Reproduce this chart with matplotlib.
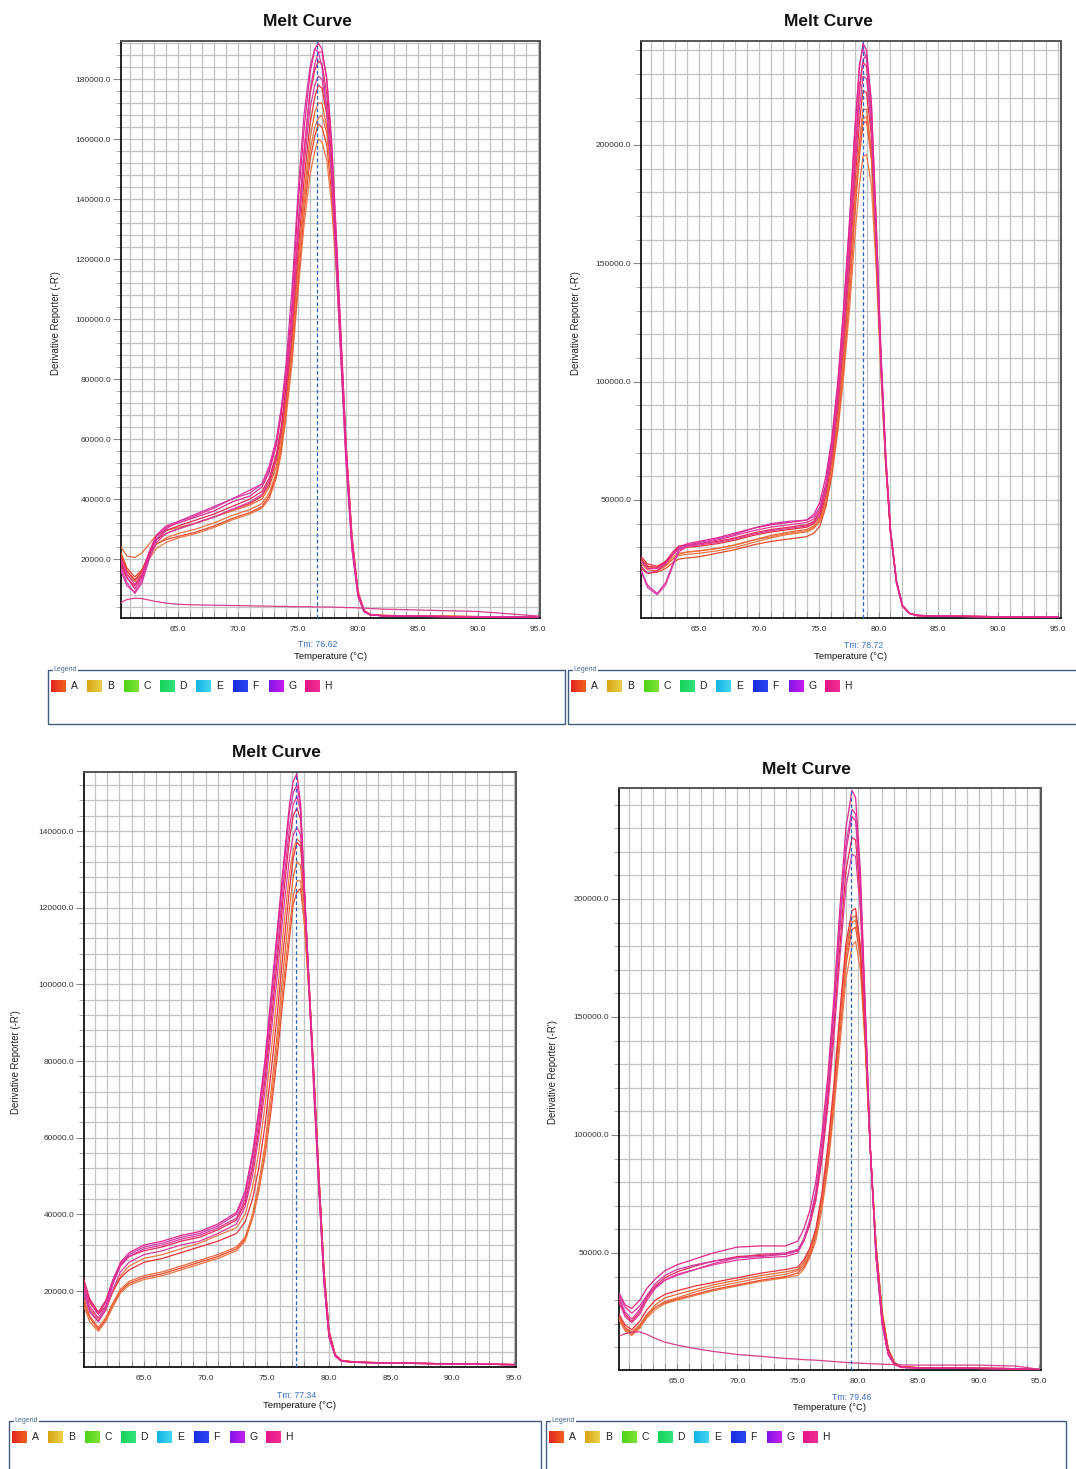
import matplotlib
matplotlib.use('Agg')
import numpy as np
import matplotlib.pyplot as plt
from matplotlib.patches import Rectangle
from matplotlib.colors import LinearSegmentedColormap
from matplotlib.ticker import MultipleLocator, FixedLocator, FormatStrFormatter
from matplotlib.transforms import blended_transform_factory

plt.rcParams['font.family'] = ['Liberation Sans', 'DejaVu Sans']

W, H = 1076, 1469

# ---------------- data (values in thousands of -R') ----------------
# panel 1 (top left)
p1_temps = [60.25, 60.75, 61.4, 62.0, 62.6, 63.2, 64.0, 65.0, 66.5, 68.0, 69.5, 71.0, 72.0, 72.6, 73.2, 73.6, 74.0, 74.5,
            75.0, 75.5, 76.0, 76.4, 76.7, 77.0, 77.4, 77.8, 78.2, 78.6, 79.0, 79.5, 80.0, 80.5, 81.0, 82.0, 85.0, 90.0, 95.0]
p1_c01 = [19, 14, 10, 14, 22, 27.5, 30.5, 32, 34, 36, 39, 41, 44, 49, 58, 68, 82, 105, 138, 163, 182, 190, 192, 190, 180, 158, 125, 90, 55, 24, 8, 2.5, 1.4, 1.1, 0.9, 0.7, 0.6]
p1_c02 = [17, 12, 8.5, 12, 20, 26.5, 30, 32.5, 35, 37.5, 40, 42, 45, 50, 59, 70, 85, 110, 142, 168, 184, 190, 189, 184, 170, 148, 117, 84, 52, 23, 7.5, 2.4, 1.4, 1.1, 0.9, 0.7, 0.6]
p1_c03 = [20, 15, 11.5, 15, 22.5, 28, 31, 32.5, 34.5, 37, 40, 43, 45, 51, 60, 70, 80, 100, 130, 156, 176, 185, 189, 189, 180, 160, 128, 94, 59, 27, 9, 2.8, 1.5, 1.1, 0.9, 0.7, 0.6]
p1_c04 = [18, 13.5, 11, 14.5, 21.5, 26.5, 29.5, 31, 33, 35, 37.5, 40, 42.5, 47, 55, 64, 78, 100, 130, 155, 175, 183, 186, 185, 175, 154, 124, 91, 57, 26, 8.5, 2.6, 1.4, 1.1, 0.9, 0.7, 0.6]
p1_c05 = [16, 11, 9, 13, 20, 25.5, 28.5, 30, 32, 34, 36.5, 39, 41.5, 46, 54, 63, 76, 98, 127, 151, 170, 178, 181, 180, 170, 149, 119, 87, 54, 24, 8, 2.5, 1.4, 1.1, 0.9, 0.7, 0.6]
p1_c06 = [21, 16, 13, 16, 22, 26.5, 28.5, 30, 32, 34, 36.5, 38.5, 41, 45, 53, 62, 74, 95, 122, 146, 165, 174, 178, 177, 168, 149, 122, 90, 57, 26, 8.5, 2.6, 1.4, 1.1, 0.9, 0.7, 0.6]
p1_c07 = [24, 21, 20.5, 22, 25, 28, 29.5, 30.5, 32, 34, 36, 38, 40, 44, 51, 60, 72, 92, 118, 141, 160, 169, 172, 172, 164, 147, 122, 91, 58, 27, 9, 2.8, 1.5, 1.2, 1.0, 0.8, 0.6]
p1_c08 = [19, 15, 12.5, 15, 21, 25, 27, 28.5, 30, 32, 34.5, 36.5, 38.5, 42, 49, 58, 70, 90, 115, 138, 156, 164, 167, 168, 162, 146, 121, 91, 59, 28, 9.5, 3, 1.6, 1.2, 1.0, 0.8, 0.6]
p1_c09 = [22, 17, 14, 16.5, 21.5, 25, 26.5, 27.5, 29, 31, 33.5, 35.5, 37.5, 41, 48, 57, 69, 88, 112, 135, 153, 161, 165, 164, 158, 142, 119, 89, 57, 27, 9, 2.9, 1.5, 1.2, 1.0, 0.8, 0.6]
p1_c10 = [20, 16, 13, 15.5, 20, 23.5, 25.5, 27, 28.5, 30.5, 33, 35, 37, 40, 47, 55, 67, 85, 109, 131, 148, 156, 160, 159, 153, 138, 115, 86, 55, 26, 8.5, 2.8, 1.5, 1.2, 1.0, 0.8, 0.6]
p1_flat = [5.5, 6.5, 6.9, 6.8, 6.3, 5.8, 5.3, 4.9, 4.7, 4.6, 4.5, 4.4, 4.3, 4.3, 4.2, 4.2, 4.2, 4.1, 4.1, 4.1, 4.1, 4.0, 4.0, 4.0, 4.0, 4.0, 3.9, 3.9, 3.8, 3.8, 3.7, 3.6, 3.5, 3.3, 3.0, 2.5, 1.0]
p1_tm = 76.62

# panel 2 (top right)
p2_temps = [60.17, 60.7, 61.5, 62.2, 62.8, 63.3, 64.0, 65.0, 66.5, 68.0, 69.5, 71.0, 72.5, 74.0, 74.6, 75.1, 75.6, 76.1,
            76.6, 77.1, 77.6, 78.0, 78.4, 78.7, 79.0, 79.4, 79.8, 80.2, 80.6, 81.0, 81.5, 82.0, 82.6, 83.2, 85.0, 90.0, 95.0]
p2_c01 = [22, 19, 20, 23, 27, 30, 31.5, 32.5, 34, 36, 38, 39.5, 40.5, 41.5, 44, 49, 60, 76, 100, 132, 170, 205, 232, 243, 240, 218, 168, 112, 68, 36, 15, 5, 2, 1.2, 0.9, 0.7, 0.6]
p2_c02 = [20, 14, 10.5, 15, 23, 29, 31, 32, 33.5, 35.5, 38, 40, 41, 41.5, 43, 47, 57, 75, 99, 131, 168, 204, 234, 241, 236, 210, 160, 107, 67, 37, 15.5, 5.2, 2, 1.2, 0.9, 0.7, 0.6]
p2_c03 = [20, 13, 10, 14, 22, 28, 30.5, 31.5, 33, 35, 37, 38.5, 39.5, 40.5, 42, 46, 56, 72, 95, 126, 162, 196, 225, 236, 238, 218, 168, 113, 70, 38, 16, 5.5, 2.1, 1.3, 0.9, 0.7, 0.6]
p2_c04 = [25, 22, 21.5, 24, 28, 30.5, 31, 31.5, 32.5, 34, 36, 37.5, 38.5, 39.5, 41, 45, 55, 71, 94, 124, 159, 193, 222, 235, 233, 212, 163, 110, 68, 37, 15.5, 5.3, 2.1, 1.2, 0.9, 0.7, 0.6]
p2_c05 = [24, 21, 21, 23.5, 27, 29.5, 30.5, 31, 32, 33.5, 35.5, 37, 38, 39, 40.5, 44, 54, 69, 91, 120, 154, 187, 215, 229, 228, 208, 162, 109, 67, 37, 15.5, 5.2, 2, 1.2, 0.9, 0.7, 0.6]
p2_c06 = [26, 23, 22, 24, 27, 29, 30, 30.5, 31.5, 33, 35, 36.5, 37.5, 38.5, 40, 43, 52, 67, 89, 117, 150, 182, 209, 223, 222, 204, 160, 108, 67, 37, 15.5, 5.3, 2.1, 1.2, 0.9, 0.7, 0.6]
p2_c07 = [23, 20.5, 20, 22, 25, 27, 28, 28.5, 29.5, 31, 33, 35, 36.5, 37.5, 39, 42, 50, 64, 85, 112, 144, 175, 201, 215, 215, 198, 156, 107, 66, 37, 15.5, 5.3, 2.1, 1.3, 0.9, 0.7, 0.6]
p2_c08 = [25, 22, 21, 22.5, 25, 26.5, 27, 27.5, 28.5, 30, 32, 34, 35.5, 36.5, 38, 41, 49, 63, 83, 110, 141, 172, 198, 211, 212, 196, 155, 107, 66, 37, 16, 5.5, 2.2, 1.3, 0.9, 0.7, 0.6]
p2_c09 = [21, 19, 19.5, 21, 23.5, 25, 25.5, 26, 27.5, 29, 31, 32.5, 33.5, 34.5, 36, 39, 47, 61, 81, 107, 138, 169, 195, 209, 210, 194, 154, 106, 65, 36, 15, 5.2, 2.1, 1.2, 0.9, 0.7, 0.6]
p2_c10 = [24, 21.5, 21, 23, 26, 27.5, 28, 28.5, 29.5, 31, 33, 34.5, 36, 37, 38.5, 41, 48, 60, 79, 103, 132, 160, 183, 195, 196, 183, 148, 103, 64, 36, 15, 5.2, 2.1, 1.2, 0.9, 0.7, 0.6]
p2_tm = 78.72

# panel 3 (bottom left)
p3_temps = [60.13, 60.6, 61.3, 61.9, 62.5, 63.1, 63.8, 65.0, 66.5, 68.0, 69.5, 71.0, 72.5, 73.2, 73.8, 74.3, 74.8, 75.3,
            75.8, 76.3, 76.8, 77.1, 77.4, 77.7, 78.0, 78.4, 78.8, 79.2, 79.6, 80.0, 80.5, 81.0, 82.0, 85.0, 90.0, 95.0]
p3_c01 = [22, 17.5, 14, 17, 23, 27.5, 30, 32, 33, 34.5, 35.5, 37.5, 40.5, 46, 56, 67, 80, 97, 114, 131, 147, 153, 155, 147, 125, 97, 70, 45, 22, 8, 3, 1.7, 1.4, 1.2, 1.0, 0.8]
p3_c02 = [20, 15, 12, 15.5, 22, 27, 29.5, 31.5, 32.5, 34, 35, 37, 40, 45, 55, 66, 79, 95, 112, 129, 145, 150, 152, 146, 125, 98, 71, 46, 22, 8, 3, 1.7, 1.4, 1.2, 1.0, 0.8]
p3_c03 = [21, 16, 13, 16, 22, 26.5, 29, 31, 32, 33.5, 34.5, 36.5, 39, 44, 53, 64, 77, 93, 109, 126, 141, 147, 149, 145, 126, 99, 73, 47, 23, 8.5, 3.2, 1.8, 1.4, 1.2, 1.0, 0.8]
p3_c04 = [23, 18, 14.5, 17.5, 23, 27, 29, 30.5, 31.5, 33, 34, 36, 38.5, 43, 52, 62, 75, 90, 106, 123, 138, 144, 146, 143, 125, 99, 73, 47, 23, 8.5, 3.2, 1.8, 1.4, 1.2, 1.0, 0.8]
p3_c05 = [19, 14.5, 12, 15, 20.5, 25, 27.5, 29.5, 30.5, 32, 33, 35, 37.5, 42, 50, 60, 72, 87, 102, 119, 133, 139, 141, 139, 123, 99, 74, 48, 24, 9, 3.3, 1.8, 1.4, 1.2, 1.0, 0.8]
p3_c06 = [21, 17, 14, 16, 20, 23.5, 25.5, 27.5, 28.5, 30, 31.5, 33, 35, 38, 44, 52, 63, 77, 92, 109, 125, 133, 137, 136, 123, 100, 75, 49, 25, 9.5, 3.4, 1.9, 1.5, 1.2, 1.0, 0.8]
p3_c07 = [18, 13.5, 10.5, 13, 17, 20.5, 22.5, 24, 25, 26.5, 28, 29.5, 31.5, 34, 40, 48, 58, 72, 87, 104, 120, 128, 132, 131, 120, 99, 75, 49, 25, 9.5, 3.4, 1.9, 1.5, 1.2, 1.0, 0.8]
p3_c08 = [16, 12, 9.5, 12, 16, 19.5, 21.5, 23, 24, 25.5, 27, 28.5, 30.5, 33, 39, 46, 56, 69, 84, 100, 115, 123, 127, 127, 117, 97, 74, 49, 25, 9.5, 3.4, 1.9, 1.5, 1.2, 1.0, 0.8]
p3_c09 = [17, 13, 10, 12.5, 16.5, 20, 22, 23.5, 24.5, 26, 27.5, 29, 31, 33.5, 39, 46, 55, 67, 81, 97, 112, 121, 124, 125, 116, 97, 74, 49, 25, 9.5, 3.4, 1.9, 1.5, 1.2, 1.0, 0.8]
p3_c10 = [20, 15.5, 12.5, 15, 20, 24, 26.5, 28.5, 29.5, 31, 32.5, 34.5, 36.5, 40, 47, 56, 68, 82, 97, 114, 129, 135, 138, 137, 123, 99, 74, 48, 24, 9, 3.3, 1.8, 1.4, 1.2, 1.0, 0.8]
p3_tm = 77.34

# panel 4 (bottom right)
p4_temps = [60.2, 60.7, 61.25, 61.9, 62.5, 63.2, 64.0, 65.0, 66.5, 68.0, 70.0, 72.0, 74.0, 75.0, 75.5, 76.0, 76.5, 77.0,
            77.5, 78.0, 78.5, 79.0, 79.5, 79.8, 80.2, 80.6, 81.0, 81.5, 82.0, 82.5, 83.0, 83.6, 85.0, 90.0, 93.0, 95.0]
p4_c01 = [33, 28, 26.5, 30, 35, 39, 42.5, 45, 47.5, 50, 52.5, 53, 53, 55, 60, 68, 80, 100, 125, 158, 196, 230, 246, 243, 212, 155, 97, 48, 20, 7, 2.8, 1.5, 1.3, 1.1, 1.0, 0.6]
p4_c02 = [31, 25, 22, 26, 32, 37, 40.5, 43, 45, 46.5, 48, 48.5, 49.5, 51, 56, 64, 76, 96, 121, 153, 190, 223, 238, 236, 207, 152, 96, 48, 20, 7, 2.8, 1.5, 1.3, 1.1, 1.0, 0.6]
p4_c03 = [29, 23, 20.5, 24, 30, 35, 38.5, 41, 43, 45, 47, 48, 48.5, 50, 55, 63, 75, 94, 119, 151, 187, 220, 235, 233, 205, 151, 96, 49, 21, 7.5, 3, 1.6, 1.3, 1.1, 1.0, 0.6]
p4_c04 = [30, 24, 21, 25, 31, 36, 39.5, 42, 44.5, 46.5, 48.5, 49, 49.5, 51, 55, 62, 73, 91, 115, 146, 180, 212, 226, 225, 200, 149, 96, 49, 21, 7.5, 3, 1.6, 1.3, 1.1, 1.0, 0.6]
p4_c05 = [32, 27, 24.5, 27.5, 32, 35.5, 38.5, 40.5, 43, 45.5, 48, 49.5, 50, 51.5, 55, 62, 72, 89, 112, 141, 175, 205, 219, 218, 195, 147, 96, 50, 22, 8, 3.1, 1.6, 1.3, 1.1, 1.0, 0.6]
p4_c06 = [24, 19.5, 17.5, 21, 26, 30, 32.5, 34, 36, 37.5, 39.5, 41.5, 43, 44, 47, 52, 60, 75, 95, 121, 152, 181, 195, 196, 180, 142, 96, 52, 24, 9, 3.5, 1.8, 1.4, 1.1, 1.0, 0.6]
p4_c07 = [23, 18.5, 16.5, 19.5, 24, 28, 31, 32.5, 34.5, 36.5, 38.5, 40.5, 42, 43, 46, 51, 59, 73, 93, 118, 149, 178, 192, 193, 178, 141, 96, 52, 24, 9, 3.5, 1.8, 1.4, 1.1, 1.0, 0.6]
p4_c08 = [22, 17.5, 15.5, 18.5, 23, 27, 29.5, 31, 33.5, 35.5, 37.5, 39.5, 41, 42.5, 45, 50, 58, 72, 91, 116, 146, 175, 190, 191, 177, 141, 96, 53, 25, 9.5, 3.6, 1.8, 1.4, 1.1, 1.0, 0.6]
p4_c09 = [22.5, 18, 16, 19, 23.5, 27, 29, 30.5, 32.5, 34.5, 36.5, 38.5, 40, 41.5, 44, 49, 57, 71, 89, 114, 143, 172, 187, 188, 175, 140, 96, 53, 25, 9.5, 3.6, 1.8, 1.4, 1.1, 1.0, 0.6]
p4_c10 = [21.5, 17, 15, 18, 22.5, 26, 28.5, 30, 32, 34, 36, 38, 39.5, 40.5, 43, 48, 55, 68, 86, 110, 138, 166, 180, 182, 170, 137, 95, 53, 25, 9.5, 3.6, 1.8, 1.4, 1.1, 1.0, 0.6]
p4_flat = [14.8, 15.8, 16.4, 16.6, 15.5, 13.8, 12.2, 11, 9.5, 8.3, 7.0, 6.2, 5.3, 5, 4.8, 4.7, 4.6, 4.4, 4.2, 4.0, 3.8, 3.6, 3.5, 3.4, 3.3, 3.2, 3.1, 3.0, 2.9, 2.8, 2.7, 2.6, 2.5, 2.5, 2.1, 0.8]
p4_tm = 79.46

# well legend
well_names = ['A', 'B', 'C', 'D', 'E', 'F', 'G', 'H']
well_colors = [('#e2261e', '#f2601e'), ('#d8a414', '#ecd04a'), ('#4ed418', '#7ee234'), ('#16d45a', '#34e27a'),
               ('#14b2e4', '#44d6f2'), ('#1a2ee0', '#2a46f0'), ('#8416e6', '#c41ef0'), ('#e4168a', '#f22c94')]

# curve colours: pinks on the first curves, oranges on the last
curve_colors = ['#e2278e', '#d23aa6', '#e8359a', '#e42a55', '#dc3c9e',
                '#e8323c', '#ec6a3c', '#ee7444', '#e94b2e', '#f07a4a']
flat_color = '#d8408a'

fig = plt.figure(figsize=(W / 100, H / 100), dpi=100)
fig.patch.set_facecolor('white')

# overlay in pixel coordinates for titles, y labels and legend boxes
ov = fig.add_axes([0, 0, 1, 1])
ov.set_xlim(0, W)
ov.set_ylim(H, 0)
ov.axis('off')


def make_axes(box):
    l, t, r, b = box
    return fig.add_axes([l / W, 1 - b / H, (r - l) / W, (b - t) / H])


def draw_panel(box, xlim, ylim, ymajor, yminor, temps, curves, tm, flat=None, offs=(15, 27, 39)):
    ax = make_axes(box)
    ax.set_zorder(2)
    h_px = box[3] - box[1]
    # draw oranges first so the pink ones sit on top
    for vals, col in reversed(list(zip(curves, curve_colors))):
        ax.plot(temps, np.array(vals) * 1000, color=col, lw=0.9, zorder=3)
    if flat is not None:
        ax.plot(temps, np.array(flat) * 1000, color=flat_color, lw=0.9, zorder=3)
    ax.axvline(tm, color='#2a62c4', lw=0.9, ls=(0, (3, 2)), zorder=4)

    ax.set_xlim(*xlim)
    ax.set_ylim(*ylim)
    ax.xaxis.set_major_locator(MultipleLocator(5))
    ax.xaxis.set_minor_locator(MultipleLocator(1))
    ax.xaxis.set_major_formatter(FormatStrFormatter('%.1f'))
    ax.yaxis.set_major_locator(FixedLocator(ymajor))
    ax.yaxis.set_minor_locator(MultipleLocator(yminor))
    ax.yaxis.set_major_formatter(FormatStrFormatter('%.1f'))
    ax.grid(which='both', color='#c3c3c3', lw=0.9, zorder=1)
    ax.set_axisbelow(True)
    ax.tick_params(axis='x', which='both', direction='in', length=4, color='#8a8a8a',
                   labelsize=6, labelcolor='#333333', pad=6)
    ax.tick_params(axis='y', which='major', direction='out', length=5.5, color='#888888',
                   labelsize=6, labelcolor='#333333', pad=1.5)
    ax.tick_params(axis='y', which='minor', direction='out', length=3.5, color='#999999')
    for side in ['left', 'bottom']:
        ax.spines[side].set_color('#111111')
        ax.spines[side].set_linewidth(1.3)
    for side in ['top', 'right']:
        ax.spines[side].set_color('#555555')
        ax.spines[side].set_linewidth(1.4)

    tr = blended_transform_factory(ax.transData, ax.transAxes)
    ax.text(tm, -offs[1] / h_px, 'Tm: %.2f' % tm, transform=tr, ha='center', va='center',
            fontsize=6.3, color='#3a70c8')
    ax.text(0.5, -offs[2] / h_px, 'Temperature (\u00b0C)', transform=ax.transAxes, ha='center',
            va='center', fontsize=6.8, color='#111111')
    return ax


def draw_legend(left, top, right, bottom):
    ov.add_patch(Rectangle((left, top), right - left, bottom - top, fill=False, ec='#3e5c7c', lw=1.0))
    ov.text(left + 6, top, 'Legend', fontsize=5, color='#4a6c98', ha='left', va='center',
            bbox=dict(fc='white', ec='none', pad=0.6))
    for i, (name, (c0, c1)) in enumerate(zip(well_names, well_colors)):
        x0 = left + 3.5 + i * 36.3
        cmap = LinearSegmentedColormap.from_list('w' + name, [c0, c1])
        ov.imshow(np.linspace(0, 1, 16)[None, :], cmap=cmap, aspect='auto',
                  extent=(x0, x0 + 15, top + 22, top + 10), zorder=3)
        ov.text(x0 + 19.5, top + 16.5, name, fontsize=7.5, color='#222222', ha='left', va='center')


draw_panel((121, 41, 540, 618), (60.25, 95.17), (333, 192700), np.arange(20000, 180001, 20000), 4000,
           p1_temps, [p1_c01, p1_c02, p1_c03, p1_c04, p1_c05, p1_c06, p1_c07, p1_c08, p1_c09, p1_c10],
           p1_tm, flat=p1_flat, offs=(15, 27, 39))
draw_panel((641, 41, 1061, 618), (60.15, 95.25), (141, 243900), np.arange(50000, 200001, 50000), 10000,
           p2_temps, [p2_c01, p2_c02, p2_c03, p2_c04, p2_c05, p2_c06, p2_c07, p2_c08, p2_c09, p2_c10],
           p2_tm, offs=(15, 28, 39))
draw_panel((84, 772, 516, 1367), (60.14, 95.16), (174, 155400), np.arange(20000, 140001, 20000), 4000,
           p3_temps, [p3_c01, p3_c02, p3_c03, p3_c04, p3_c05, p3_c06, p3_c07, p3_c08, p3_c09, p3_c10],
           p3_tm, offs=(16, 28, 39))
draw_panel((619, 788, 1041, 1370), (60.19, 95.17), (424, 247000), np.arange(50000, 200001, 50000), 10000,
           p4_temps, [p4_c01, p4_c02, p4_c03, p4_c04, p4_c05, p4_c06, p4_c07, p4_c08, p4_c09, p4_c10],
           p4_tm, flat=p4_flat, offs=(15, 27, 38))

# titles and y labels (pixel positions)
for x, y in [(307, 21), (828, 21), (276, 752), (806, 769)]:
    ov.text(x, y, 'Melt Curve', fontsize=12.5, fontweight='bold', ha='center', va='center', color='#111111')
for x, y in [(56, 323), (576, 323), (16, 1062), (553, 1072)]:
    ov.text(x, y, "Derivative Reporter (-R')", fontsize=6.9, rotation=90, ha='center', va='center',
            color='#222222')

draw_legend(47.5, 669.5, 565, 724)
draw_legend(567.5, 669.5, 1090, 724)
draw_legend(8.5, 1421, 541, 1480)
draw_legend(545.5, 1421, 1066, 1480)

ov.set_xlim(0, W)
ov.set_ylim(H, 0)

fig.savefig('out.png', dpi=100, facecolor='white')
